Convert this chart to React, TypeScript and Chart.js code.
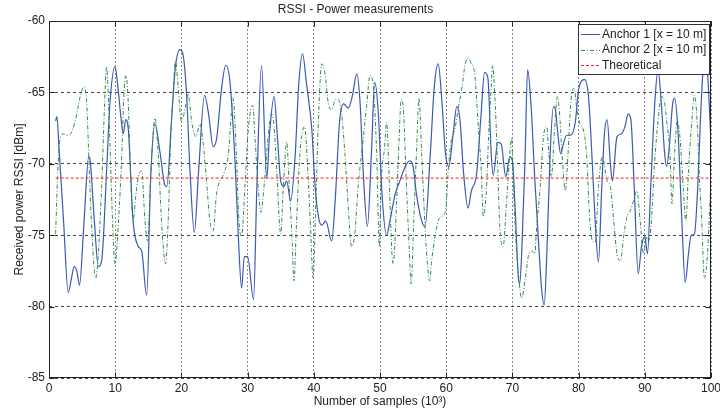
import React, { useEffect, useRef } from "react";
import { Chart, registerables } from "chart.js";

Chart.register(...registerables);

const chartTitle = "RSSI - Power measurements";
const xAxisTitle = "Number of samples (10³)";
const yAxisTitle = "Received power RSSI [dBm]";
const seriesLabels = ["Anchor 1 [x = 10 m]", "Anchor 2 [x = 10 m]", "Theoretical"];
const seriesColors = ["#3a59b2", "#2e8a4c", "#ff2020"];
const seriesDashes: number[][] = [[], [4, 2, 1, 2], [3, 2]];
const seriesWidths = [1.2, 1, 1];

const xMin = 0;
const xMax = 100;
const xStep = 10;
const yMin = -85;
const yMax = -60;
const yStep = 5;

const anchor1X = [
  1.0, 1.2, 1.5, 2.2, 2.9, 3.4, 3.8, 4.2, 4.6, 5.3, 6.0, 6.2, 6.85, 7.45, 7.95, 8.7, 9.2, 9.97, 10.4, 10.9,
  11.2, 11.6, 11.98, 12.7, 13.5, 14.0, 14.75, 15.4, 16.0, 16.8, 17.5, 17.8, 18.5, 19.1, 19.8, 20.3, 20.8, 21.3,
  21.95, 22.6, 23.5, 24.1, 24.8, 25.3, 26.1, 26.7, 27.3, 28.1, 28.6, 29.1, 29.5, 30.0, 30.9, 31.4, 32.1, 32.9,
  33.3, 34.0, 34.5, 35.0, 35.5, 35.9, 36.5, 37.2, 37.7, 38.3, 38.9, 39.7, 40.2, 40.7, 41.2, 41.8, 42.7, 43.2,
  43.9, 44.5, 45.2, 45.8, 46.5, 47.0, 47.5, 48.1, 48.7, 49.2, 49.75, 50.3, 51.0, 51.5, 52.3, 53.0, 53.8, 54.5,
  55.0, 55.5, 56.3, 56.8, 57.6, 58.2, 58.8, 59.3, 59.9, 60.4, 61.0, 61.6, 62.1, 62.6, 63.3, 63.8, 64.6, 65.2,
  65.8, 66.3, 66.8, 67.1, 67.8, 68.3, 69.0, 69.6, 70.0, 70.4, 70.9, 71.1, 71.4, 71.9, 72.3, 72.8, 73.4, 73.9,
  74.4, 74.8, 75.2, 75.7, 76.2, 76.5, 76.8, 77.3, 77.7, 78.2, 78.8, 79.5, 80.0, 80.9, 81.5, 82.0, 82.5, 83.0,
  83.5, 83.9, 84.3, 84.8, 85.1, 85.8, 86.5, 87.0, 87.5, 87.9, 88.4, 89.0, 89.5, 90.0, 90.4, 90.9, 91.5, 92.0,
  92.5, 93.0, 93.3, 93.7, 94.2, 94.5, 95.0, 95.6, 96.1, 96.6, 97.0, 97.5, 98.0, 98.4, 98.8, 99.2, 99.6, 100.0,
];
const anchor1Y = [
  -67.0, -66.7, -68.8, -74.0, -79.0, -78.0, -77.2, -77.5, -78.5, -74.0, -69.5, -69.7, -74.0, -77.2, -76.8, -70.5, -65.8, -63.2, -64.6, -66.9,
  -67.9, -66.9, -67.6, -74.0, -75.8, -76.1, -79.2, -70.5, -67.2, -69.3, -71.5, -71.6, -67.0, -63.2, -62.0, -62.5, -65.3, -70.5,
  -74.8, -70.5, -65.2, -66.5, -68.8, -68.3, -64.6, -63.1, -64.1, -69.8, -75.1, -78.7, -76.5, -76.5, -79.5, -71.6, -63.1, -71.0,
  -68.0, -65.3, -68.1, -71.2, -71.6, -71.2, -72.6, -69.3, -64.6, -62.3, -64.4, -67.6, -71.6, -73.7, -74.3, -74.0, -75.4, -72.8,
  -67.0, -65.8, -66.1, -65.3, -63.7, -65.8, -70.9, -74.4, -69.3, -64.3, -66.5, -72.1, -75.0, -74.0, -72.1, -71.2, -70.2, -69.8,
  -70.2, -72.1, -74.0, -74.4, -69.3, -64.6, -63.0, -65.3, -69.3, -70.2, -68.1, -66.0, -67.0, -70.5, -73.1, -71.9, -70.7, -67.0,
  -63.6, -64.0, -69.3, -70.8, -68.5, -68.6, -70.9, -69.5, -69.8, -73.0, -78.0, -78.4, -76.3, -69.8, -63.4, -65.8, -71.2, -75.1,
  -78.7, -79.9, -76.3, -69.3, -66.0, -66.2, -67.6, -69.3, -68.6, -68.0, -68.0, -67.1, -64.8, -64.1, -65.3, -69.3, -74.0, -76.9,
  -71.6, -67.9, -66.9, -70.0, -71.2, -68.1, -67.9, -67.4, -66.5, -66.9, -71.6, -77.7, -75.8, -75.1, -76.3, -71.6, -65.8, -63.4,
  -65.8, -69.3, -70.2, -68.8, -65.8, -65.4, -67.6, -74.0, -78.3, -76.3, -75.0, -74.9, -71.6, -67.0, -63.4, -62.0, -64.6, -68.6,
];

const anchor2X = [
  1.0, 1.3, 1.65, 2.2, 2.9, 3.4, 4.2, 4.7, 5.3, 5.7, 6.0, 6.4, 7.05, 7.45, 7.95, 8.4, 8.7, 9.1, 9.5, 9.97,
  10.5, 11.0, 11.3, 11.6, 11.98, 12.3, 12.7, 13.1, 13.5, 14.0, 14.5, 14.9, 15.4, 16.0, 16.5, 17.0, 17.6, 18.0,
  18.4, 18.8, 19.1, 19.5, 20.0, 20.7, 21.0, 21.6, 22.2, 22.8, 23.3, 23.8, 24.3, 24.8, 25.3, 25.8, 26.3, 27.1,
  27.8, 28.3, 28.7, 29.1, 29.6, 30.1, 30.8, 31.1, 31.6, 32.0, 32.5, 33.1, 33.6, 34.0, 34.4, 35.0, 35.4, 35.9,
  36.3, 36.7, 37.0, 37.4, 37.9, 38.6, 39.1, 39.5, 39.9, 40.3, 40.7, 41.2, 41.7, 42.2, 42.7, 43.3, 43.7, 44.2,
  44.7, 45.2, 45.7, 46.2, 46.7, 47.5, 48.0, 48.5, 49.0, 49.5, 49.9, 50.15, 50.7, 51.0, 51.4, 51.8, 52.0, 52.5,
  52.9, 53.2, 53.5, 54.0, 54.4, 54.7, 55.1, 55.5, 55.9, 56.3, 56.8, 57.2, 57.5, 57.8, 58.3, 58.8, 59.3, 59.9,
  60.3, 60.8, 61.3, 61.8, 62.4, 62.8, 63.3, 63.8, 64.3, 64.8, 65.3, 65.6, 66.1, 66.4, 66.8, 67.0, 67.4, 67.8,
  68.1, 68.6, 69.1, 69.6, 69.9, 70.1, 70.5, 70.9, 71.4, 71.9, 72.4, 72.9, 73.4, 73.6, 74.2, 74.7, 75.2, 75.5,
  75.9, 76.3, 76.8, 77.2, 77.5, 78.0, 78.4, 78.8, 79.3, 79.7, 80.2, 80.7, 81.2, 81.7, 82.1, 82.5, 83.0, 83.6,
  84.3, 84.8, 85.3, 85.8, 86.3, 86.8, 87.3, 87.8, 88.3, 88.8, 89.3, 89.8, 90.3, 90.6, 91.0, 91.5, 92.0, 92.5,
  92.9, 93.3, 93.8, 94.1, 94.5, 94.9, 95.3, 95.8, 96.2, 96.6, 97.1, 97.5, 97.9, 98.2, 98.6, 99.0, 99.4, 99.9,
];
const anchor2Y = [
  -74.9, -70.9, -68.3, -67.9, -68.0, -67.8, -66.5, -65.3, -64.6, -65.8, -69.3, -74.0, -78.0, -76.3, -71.6, -65.8, -63.2, -67.0, -72.8, -77.0,
  -74.0, -69.3, -65.3, -63.8, -65.8, -70.5, -74.0, -72.3, -70.9, -70.5, -74.0, -75.4, -70.5, -66.8, -69.3, -74.0, -77.0, -74.0,
  -68.1, -64.6, -62.8, -64.6, -67.0, -65.8, -65.1, -67.2, -68.1, -67.2, -68.6, -71.2, -74.0, -74.7, -72.1, -71.2, -70.8, -69.3,
  -65.4, -69.3, -74.0, -75.1, -71.6, -67.6, -65.9, -68.1, -71.6, -73.4, -71.5, -68.1, -66.5, -67.4, -70.5, -74.9, -71.6, -68.5,
  -71.6, -75.1, -78.2, -74.0, -69.3, -67.4, -70.5, -74.4, -78.0, -72.8, -66.9, -63.0, -63.7, -65.8, -66.2, -65.5, -65.5, -66.5,
  -69.3, -73.0, -75.8, -74.9, -71.6, -68.1, -65.8, -63.8, -64.6, -69.3, -75.8, -71.6, -68.8, -67.1, -71.2, -76.3, -77.0, -72.8,
  -68.1, -65.5, -66.0, -71.6, -75.8, -78.4, -74.0, -69.3, -65.4, -69.3, -74.4, -77.2, -78.2, -76.8, -75.1, -74.0, -73.7, -73.3,
  -70.5, -68.3, -67.6, -66.2, -64.6, -63.2, -62.6, -63.0, -63.7, -67.0, -70.5, -73.7, -71.6, -68.1, -64.6, -63.1, -65.8, -70.5,
  -74.4, -75.8, -72.8, -69.3, -68.2, -70.9, -75.1, -77.7, -79.4, -78.2, -76.5, -76.1, -76.3, -74.9, -71.6, -68.1, -67.4, -69.3,
  -70.9, -68.1, -65.3, -67.0, -69.3, -71.9, -69.3, -65.8, -64.7, -66.0, -67.2, -67.6, -69.3, -74.0, -75.4, -75.5, -71.6, -69.5,
  -71.2, -71.6, -74.0, -76.3, -76.8, -75.1, -73.7, -73.3, -72.6, -71.9, -74.0, -76.3, -75.1, -75.4, -74.0, -69.8, -67.0, -65.3,
  -65.5, -67.0, -69.3, -72.8, -69.3, -67.0, -68.1, -71.6, -74.0, -70.5, -67.0, -65.2, -67.0, -70.5, -74.0, -78.0, -76.8, -72.1,
];

const theoreticalX = [1, 100];
const theoreticalY = [-71, -71];

const FONT = '"Liberation Sans", Arial, Helvetica, sans-serif';
const TEXT = "#222";

const toPoints = (xs: number[], ys: number[]) => xs.map((x, i) => ({ x, y: ys[i] }));

const framePlugin = {
  id: "matlabFrame",
  afterDatasetsDraw(chart: any) {
    const { ctx, chartArea: a, scales } = chart;
    const L = Math.round(a.left) + 0.5;
    const R = Math.round(a.right) - 0.5;
    const T = Math.round(a.top) + 0.5;
    const B = Math.round(a.bottom) - 0.5;
    ctx.save();
    ctx.setLineDash([]);
    ctx.strokeStyle = "#222";
    ctx.lineWidth = 1;
    ctx.strokeRect(L, T, R - L, B - T);
    const tl = 5;
    ctx.beginPath();
    scales.x.ticks.forEach((t: any) => {
      const px = Math.round(scales.x.getPixelForValue(t.value)) + 0.5;
      ctx.moveTo(px, B);
      ctx.lineTo(px, B - tl);
      ctx.moveTo(px, T);
      ctx.lineTo(px, T + tl);
    });
    scales.y.ticks.forEach((t: any) => {
      const py = Math.round(scales.y.getPixelForValue(t.value)) + 0.5;
      ctx.moveTo(L, py);
      ctx.lineTo(L + tl, py);
      ctx.moveTo(R, py);
      ctx.lineTo(R - tl, py);
    });
    ctx.stroke();
    ctx.restore();
  },
  afterDraw(chart: any) {
    const { ctx, chartArea: a } = chart;
    ctx.save();
    ctx.font = `12px ${FONT}`;
    let maxW = 0;
    seriesLabels.forEach((lbl) => {
      maxW = Math.max(maxW, ctx.measureText(lbl).width);
    });
    const lineLen = 19;
    const w = Math.round(3 + lineLen + 2 + maxW + 3);
    const h = 50;
    const right = Math.round(a.right) - 2;
    const left = right - w;
    const top = Math.round(a.top) + 3;
    ctx.fillStyle = "#fff";
    ctx.fillRect(left, top, w, h);
    ctx.strokeStyle = "#333";
    ctx.lineWidth = 1;
    ctx.setLineDash([]);
    ctx.strokeRect(left + 0.5, top + 0.5, w, h);
    const rowH = 15.5;
    seriesLabels.forEach((lbl, i) => {
      const cy = top + 10 + i * rowH;
      const ly = Math.round(cy);
      // sample line drawn as filled dash segments
      ctx.fillStyle = seriesColors[i];
      const dash = seriesDashes[i];
      const x0 = left + 3;
      const x1 = x0 + lineLen;
      if (dash.length === 0) {
        ctx.fillRect(x0, ly, lineLen, 1);
      } else {
        let x = x0;
        let k = 0;
        while (x < x1) {
          const seg = dash[k % dash.length];
          if (k % 2 === 0) ctx.fillRect(x, ly, Math.min(seg, x1 - x), 1);
          x += seg;
          k++;
        }
      }
      ctx.fillStyle = TEXT;
      ctx.textBaseline = "middle";
      ctx.textAlign = "left";
      ctx.fillText(lbl, x1 + 2, cy + 0.5);
    });
    ctx.restore();
  },
};

export default function App() {
  const canvasRef = useRef<HTMLCanvasElement | null>(null);

  useEffect(() => {
    if (!canvasRef.current) return;
    const chart = new Chart(canvasRef.current, {
      type: "line",
      data: {
        datasets: [
          {
            label: seriesLabels[0],
            data: toPoints(anchor1X, anchor1Y),
            borderColor: seriesColors[0],
            borderWidth: seriesWidths[0],
            borderDash: seriesDashes[0],
            pointRadius: 0,
            cubicInterpolationMode: "monotone",
            order: 3,
          },
          {
            label: seriesLabels[1],
            data: toPoints(anchor2X, anchor2Y),
            borderColor: seriesColors[1],
            borderWidth: seriesWidths[1],
            borderDash: seriesDashes[1],
            pointRadius: 0,
            cubicInterpolationMode: "monotone",
            order: 2,
          },
          {
            label: seriesLabels[2],
            data: toPoints(theoreticalX, theoreticalY),
            borderColor: seriesColors[2],
            borderWidth: seriesWidths[2],
            borderDash: seriesDashes[2],
            pointRadius: 0,
            order: 1,
          },
        ],
      },
      options: {
        responsive: false,
        animation: false,
        devicePixelRatio: 1,
        layout: { padding: { left: 0, right: 9, top: 0, bottom: 0 } },
        plugins: {
          legend: { display: false },
          tooltip: { enabled: false },
          title: {
            display: true,
            text: chartTitle,
            color: TEXT,
            font: { family: FONT, size: 12, weight: "normal" },
            padding: { top: 2, bottom: 4.6 },
          },
        },
        scales: {
          x: {
            type: "linear",
            min: xMin,
            max: xMax,
            ticks: {
              stepSize: xStep,
              color: TEXT,
              font: { family: FONT, size: 12 },
              padding: 3,
              maxRotation: 0,
            },
            grid: {
              color: "#8a8a8a",
              drawTicks: false,
              lineWidth: 1,
            },
            border: { display: false, dash: [2, 2] },
            title: {
              display: true,
              text: xAxisTitle,
              color: TEXT,
              font: { family: FONT, size: 12 },
              padding: { top: 0, bottom: 8 },
            },
            afterFit: (scale: any) => {
              scale.height = 39;
              scale.paddingLeft = 0;
              scale.paddingRight = 0;
            },
          },
          y: {
            type: "linear",
            min: yMin,
            max: yMax,
            ticks: {
              stepSize: yStep,
              color: TEXT,
              font: { family: FONT, size: 12 },
              padding: 4,
            },
            grid: {
              color: "#444",
              drawTicks: false,
              lineWidth: 1,
            },
            border: { display: false, dash: [3, 3] },
            title: {
              display: true,
              text: yAxisTitle,
              color: TEXT,
              font: { family: FONT, size: 12 },
              padding: { top: 12, bottom: 0 },
            },
            afterFit: (scale: any) => {
              scale.width = 49;
              scale.paddingTop = 0;
              scale.paddingBottom = 0;
            },
          },
        },
      },
      plugins: [framePlugin],
    } as any);
    return () => chart.destroy();
  }, []);

  return (
    <div style={{ position: "fixed", left: 0, top: 0, width: 720, height: 417, background: "#fff" }}>
      <canvas ref={canvasRef} width={720} height={417} style={{ width: 720, height: 417, display: "block" }} />
    </div>
  );
}
